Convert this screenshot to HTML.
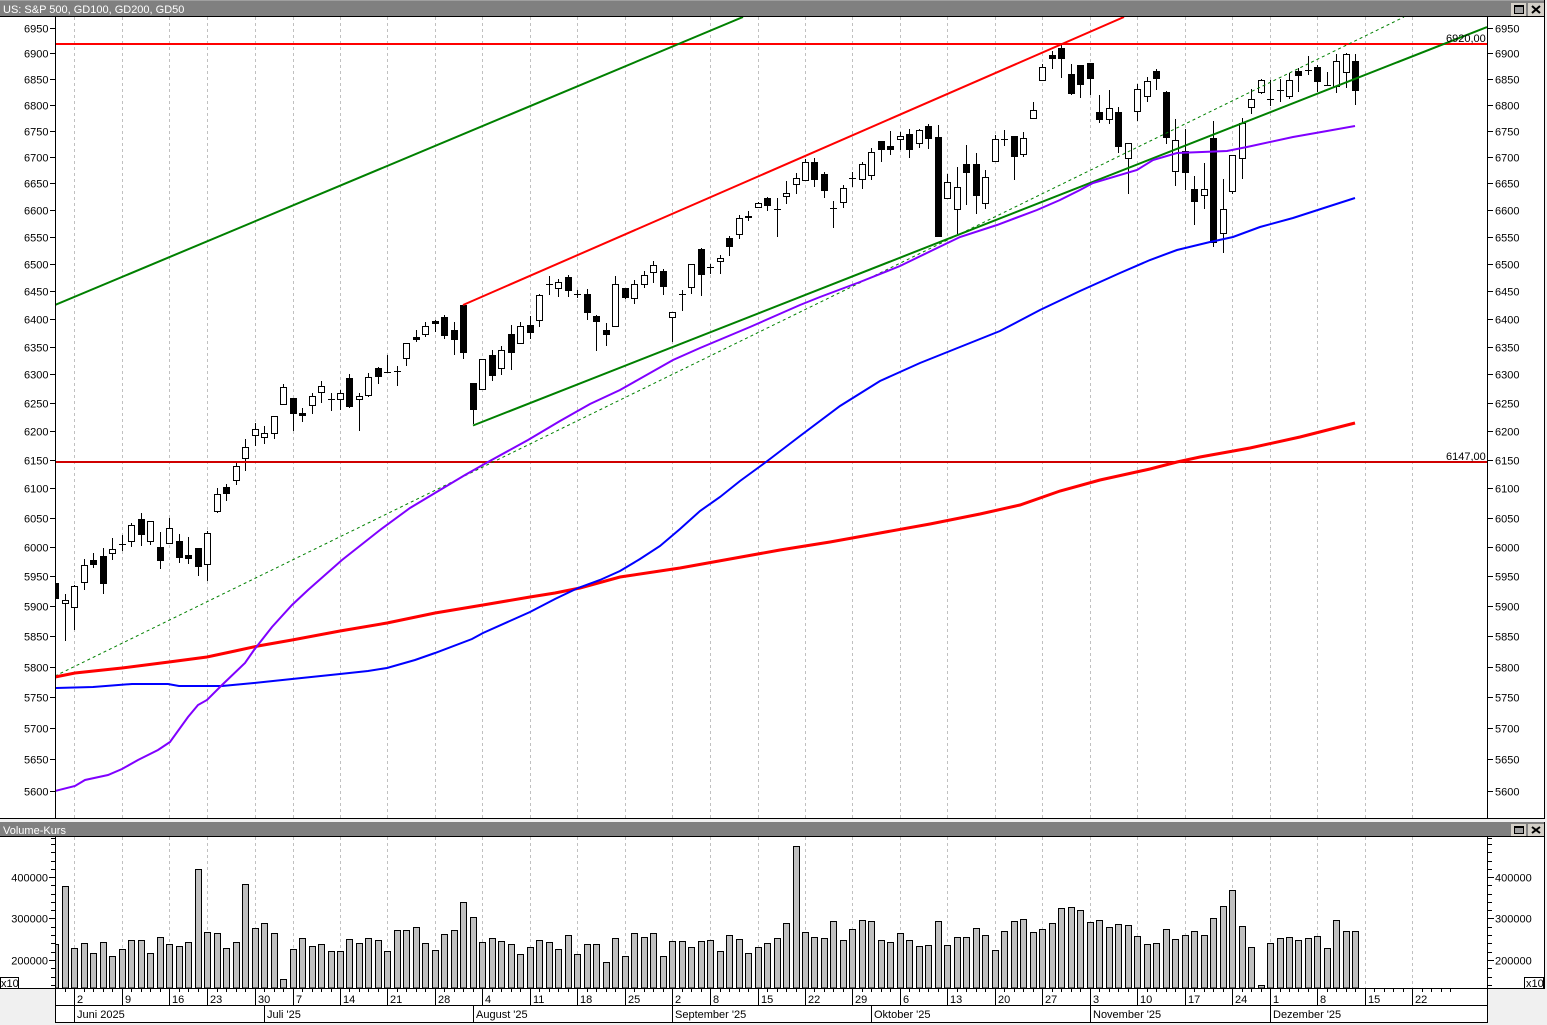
<!DOCTYPE html>
<html><head><meta charset="utf-8"><style>
html,body{margin:0;padding:0;background:#f0f0f0;overflow:hidden;}
svg{display:block;}
text{font-family:"Liberation Sans",Arial,sans-serif;font-size:11px;fill:#000;}
</style></head><body>
<svg width="1547" height="1025" viewBox="0 0 1547 1025" xmlns="http://www.w3.org/2000/svg">
<defs>
<clipPath id="cm"><rect x="56" y="17" width="1431" height="801"/></clipPath>
<clipPath id="cv"><rect x="56" y="837" width="1431" height="151"/></clipPath>
</defs>
<rect width="1547" height="1025" fill="#f0f0f0"/>

<!-- main window -->
<rect x="0" y="0" width="1544" height="16" fill="#808080"/>
<rect x="0" y="0" width="1544" height="1" fill="#a0a0a0"/>
<rect x="0" y="16" width="1545" height="1" fill="#000"/>
<rect x="0" y="17" width="1544" height="801" fill="#fff"/>
<rect x="0" y="818" width="1545" height="1" fill="#000"/>
<rect x="1544" y="0" width="1" height="819" fill="#000"/>
<text x="3" y="13" style="fill:#fff">US: S&amp;P 500, GD100, GD200, GD50</text>
<rect x="1511" y="3" width="15" height="13" fill="#d4d0c8"/>
<rect x="1514.5" y="5.5" width="9" height="8" fill="#a0a0a0" stroke="#000"/>
<rect x="1514" y="5" width="10" height="2" fill="#000"/>
<rect x="1528" y="3" width="16" height="13" fill="#d4d0c8"/>
<path d="M1532 6L1540 13M1540 6L1532 13" stroke="#000" stroke-width="2"/>

<!-- volume window -->
<rect x="0" y="822" width="1544" height="14" fill="#808080"/>
<rect x="0" y="836" width="1545" height="1" fill="#000"/>
<rect x="0" y="837" width="1544" height="151" fill="#fff"/>
<rect x="1544" y="822" width="1" height="167" fill="#000"/>
<text x="3" y="834" style="fill:#fff">Volume-Kurs</text>
<rect x="1511" y="824" width="15" height="12" fill="#d4d0c8"/>
<rect x="1514.5" y="826.5" width="9" height="7" fill="#a0a0a0" stroke="#000"/>
<rect x="1514" y="826" width="10" height="2" fill="#000"/>
<rect x="1528" y="824" width="16" height="12" fill="#d4d0c8"/>
<path d="M1532 827L1540 833M1540 827L1532 833" stroke="#000" stroke-width="2"/>

<!-- date axis area -->
<rect x="55" y="988" width="1433" height="34" fill="#fff"/>
<rect x="0" y="988" width="1545" height="1" fill="#000"/>
<rect x="55" y="1005" width="1433" height="1" fill="#000"/>
<rect x="55" y="1022" width="1433" height="1" fill="#000"/>

<!-- axis lines -->
<rect x="55" y="17" width="1" height="801" fill="#000"/>
<rect x="1487" y="17" width="1" height="801" fill="#000"/>
<rect x="55" y="837" width="1" height="186" fill="#000"/>
<rect x="1487" y="837" width="1" height="186" fill="#000"/>

<!-- gridlines -->
<path fill="none" stroke="#c0c0c0" stroke-width="1" stroke-dasharray="3,3" d="M74.5 17V818M122.5 17V818M169.5 17V818M207.5 17V818M255.5 17V818M293.5 17V818M340.5 17V818M387.5 17V818M435.5 17V818M482.5 17V818M530.5 17V818M577.5 17V818M625.5 17V818M672.5 17V818M710.5 17V818M758.5 17V818M805.5 17V818M852.5 17V818M900.5 17V818M947.5 17V818M995.5 17V818M1042.5 17V818M1090.5 17V818M1137.5 17V818M1185.5 17V818M1232.5 17V818M1270.5 17V818M1317.5 17V818M1365.5 17V818M1412.5 17V818
M74.5 837V988M122.5 837V988M169.5 837V988M207.5 837V988M255.5 837V988M293.5 837V988M340.5 837V988M387.5 837V988M435.5 837V988M482.5 837V988M530.5 837V988M577.5 837V988M625.5 837V988M672.5 837V988M710.5 837V988M758.5 837V988M805.5 837V988M852.5 837V988M900.5 837V988M947.5 837V988M995.5 837V988M1042.5 837V988M1090.5 837V988M1137.5 837V988M1185.5 837V988M1232.5 837V988M1270.5 837V988M1317.5 837V988M1365.5 837V988M1412.5 837V988"/>

<!-- price axis ticks -->
<path stroke="#000" stroke-width="1" fill="none" d="M50 28.5h5M50 53.5h5M50 79.5h5M50 105.5h5M50 131.5h5M50 157.5h5M50 183.5h5M50 210.5h5M50 237.5h5M50 264.5h5M50 291.5h5M50 319.5h5M50 347.5h5M50 374.5h5M50 403.5h5M50 431.5h5M50 460.5h5M50 488.5h5M50 518.5h5M50 547.5h5M50 576.5h5M50 606.5h5M50 636.5h5M50 667.5h5M50 697.5h5M50 728.5h5M50 759.5h5M50 791.5h5
M1488 28.5h5M1488 53.5h5M1488 79.5h5M1488 105.5h5M1488 131.5h5M1488 157.5h5M1488 183.5h5M1488 210.5h5M1488 237.5h5M1488 264.5h5M1488 291.5h5M1488 319.5h5M1488 347.5h5M1488 374.5h5M1488 403.5h5M1488 431.5h5M1488 460.5h5M1488 488.5h5M1488 518.5h5M1488 547.5h5M1488 576.5h5M1488 606.5h5M1488 636.5h5M1488 667.5h5M1488 697.5h5M1488 728.5h5M1488 759.5h5M1488 791.5h5"/>
<g text-anchor="end">
<text x="48.5" y="32.5">6950</text><text x="48.5" y="57.5">6900</text><text x="48.5" y="83.5">6850</text><text x="48.5" y="109.5">6800</text><text x="48.5" y="135.5">6750</text><text x="48.5" y="161.5">6700</text><text x="48.5" y="187.5">6650</text><text x="48.5" y="214.5">6600</text><text x="48.5" y="241.5">6550</text><text x="48.5" y="268.5">6500</text><text x="48.5" y="295.5">6450</text><text x="48.5" y="323.5">6400</text><text x="48.5" y="351.5">6350</text><text x="48.5" y="378.5">6300</text><text x="48.5" y="407.5">6250</text><text x="48.5" y="435.5">6200</text><text x="48.5" y="464.5">6150</text><text x="48.5" y="492.5">6100</text><text x="48.5" y="522.5">6050</text><text x="48.5" y="551.5">6000</text><text x="48.5" y="580.5">5950</text><text x="48.5" y="610.5">5900</text><text x="48.5" y="640.5">5850</text><text x="48.5" y="671.5">5800</text><text x="48.5" y="701.5">5750</text><text x="48.5" y="732.5">5700</text><text x="48.5" y="763.5">5650</text><text x="48.5" y="795.5">5600</text>
</g>
<g>
<text x="1495" y="32.5">6950</text><text x="1495" y="57.5">6900</text><text x="1495" y="83.5">6850</text><text x="1495" y="109.5">6800</text><text x="1495" y="135.5">6750</text><text x="1495" y="161.5">6700</text><text x="1495" y="187.5">6650</text><text x="1495" y="214.5">6600</text><text x="1495" y="241.5">6550</text><text x="1495" y="268.5">6500</text><text x="1495" y="295.5">6450</text><text x="1495" y="323.5">6400</text><text x="1495" y="351.5">6350</text><text x="1495" y="378.5">6300</text><text x="1495" y="407.5">6250</text><text x="1495" y="435.5">6200</text><text x="1495" y="464.5">6150</text><text x="1495" y="492.5">6100</text><text x="1495" y="522.5">6050</text><text x="1495" y="551.5">6000</text><text x="1495" y="580.5">5950</text><text x="1495" y="610.5">5900</text><text x="1495" y="640.5">5850</text><text x="1495" y="671.5">5800</text><text x="1495" y="701.5">5750</text><text x="1495" y="732.5">5700</text><text x="1495" y="763.5">5650</text><text x="1495" y="795.5">5600</text>
</g>

<!-- volume axis ticks -->
<path stroke="#000" stroke-width="1" fill="none" d="M49 877.5h6M49 918.5h6M49 960.5h6M51 838.5h4M51 844.5h4M51 852.5h4M51 861.5h4M51 869.5h4M51 885.5h4M51 894.5h4M51 902.5h4M51 910.5h4M51 927.5h4M51 935.5h4M51 943.5h4M51 952.5h4M51 968.5h4M51 977.5h4M51 985.5h4
M1488 877.5h6M1488 918.5h6M1488 960.5h6M1488 838.5h4M1488 844.5h4M1488 852.5h4M1488 861.5h4M1488 869.5h4M1488 885.5h4M1488 894.5h4M1488 902.5h4M1488 910.5h4M1488 927.5h4M1488 935.5h4M1488 943.5h4M1488 952.5h4M1488 968.5h4M1488 977.5h4M1488 985.5h4"/>
<g text-anchor="end">
<text x="48" y="881.5">400000</text><text x="48" y="922.5">300000</text><text x="48" y="964.5">200000</text>
</g>
<text x="1495" y="881.5">400000</text><text x="1495" y="922.5">300000</text><text x="1495" y="964.5">200000</text>
<rect x="0.5" y="977.5" width="18" height="11" fill="#fff" stroke="#000"/>
<text x="1" y="987">x10</text>
<rect x="1524.5" y="977.5" width="19" height="11" fill="#fff" stroke="#000"/>
<text x="1526" y="987">x10</text>

<!-- candles -->
<g clip-path="url(#cm)" shape-rendering="crispEdges">
<path stroke="#000" stroke-width="1" fill="none" d="M55.5 578V603M65.5 594V641M74.5 585V630M84.5 559V590M93.5 553V568M103.5 548V594M112.5 538V560M122.5 535V551M131.5 523V547M141.5 513V546M150.5 521V545M160.5 532V569M169.5 518V544M179.5 534V563M188.5 537V564M198.5 548V576M207.5 531V581M217.5 488V513M226.5 484V501M236.5 463V485M245.5 439V471M255.5 423V446M264.5 426V444M274.5 416V439M283.5 384V405M293.5 398V431M302.5 408V422M312.5 393V414M321.5 381V403M331.5 393V411M340.5 390V410M349.5 374V408M359.5 393V431M368.5 373V397M378.5 367V384M387.5 355V372M397.5 366V386M406.5 343V366M416.5 330V342M425.5 322V337M435.5 320V332M444.5 315V339M454.5 322V355M463.5 305V359M473.5 383V424M482.5 359V390M492.5 350V381M501.5 346V375M511.5 325V370M520.5 322V344M530.5 316V339M539.5 294V327M549.5 276V295M558.5 279V297M568.5 275V297M577.5 290V298M587.5 289V320M596.5 315V351M606.5 323V346M615.5 276V327M625.5 288V299M634.5 280V304M644.5 271V288M653.5 261V283M663.5 269V295M672.5 312V342M682.5 290V311M691.5 264V294M701.5 248V296M710.5 264V274M720.5 255V274M729.5 236V256M739.5 215V239M748.5 211V221M758.5 202V208M767.5 197V211M777.5 198V237M786.5 181V204M796.5 173V194M805.5 159V181M814.5 158V187M824.5 172V198M833.5 201V228M843.5 185V208M852.5 172V187M862.5 162V189M871.5 148V180M881.5 141V162M890.5 131V155M900.5 132V150M909.5 129V158M919.5 129V148M928.5 124V149M938.5 125V237M947.5 174V199M957.5 167V234M966.5 145V205M976.5 153V214M985.5 170V209M995.5 135V162M1004.5 130V146M1014.5 136V180M1023.5 132V157M1033.5 102V119M1042.5 64V81M1052.5 51V69M1061.5 45V78M1071.5 64V95M1080.5 65V98M1090.5 63V95M1099.5 95V123M1109.5 90V124M1118.5 107V153M1128.5 143V194M1137.5 84V121M1147.5 77V102M1156.5 69V90M1166.5 91V144M1175.5 119V186M1185.5 129V190M1194.5 176V225M1204.5 163V209M1213.5 121V247M1223.5 179V253M1232.5 155V194M1242.5 118V179M1251.5 89V114M1261.5 79V94M1270.5 80V106M1280.5 79V102M1289.5 73V99M1298.5 68V92M1308.5 56V75M1317.5 65V92M1327.5 72V85M1336.5 54V93M1346.5 53V88M1355.5 54V105"/>
<path fill="#000" d="M52 583h7V599h-7zM90 560h7V565h-7zM100 556h7V584h-7zM138 519h7V535h-7zM157 547h7V561h-7zM176 541h7V558h-7zM185 555h7V559h-7zM195 548h7V567h-7zM223 487h7V494h-7zM290 398h7V414h-7zM299 413h7V416h-7zM346 378h7V407h-7zM375 368h7V377h-7zM413 337h7V340h-7zM432 321h7V324h-7zM441 317h7V336h-7zM451 330h7V340h-7zM460 305h7V353h-7zM470 383h7V410h-7zM489 355h7V376h-7zM508 334h7V353h-7zM527 325h7V333h-7zM565 277h7V291h-7zM584 294h7V313h-7zM593 316h7V322h-7zM603 330h7V335h-7zM622 288h7V298h-7zM660 271h7V287h-7zM698 249h7V275h-7zM726 238h7V247h-7zM745 216h7V218h-7zM764 198h7V206h-7zM811 162h7V180h-7zM821 174h7V191h-7zM878 141h7V150h-7zM887 146h7V150h-7zM906 134h7V150h-7zM925 126h7V139h-7zM935 137h7V237h-7zM963 164h7V173h-7zM973 164h7V196h-7zM1011 136h7V157h-7zM1049 55h7V59h-7zM1058 48h7V59h-7zM1068 74h7V94h-7zM1077 65h7V85h-7zM1087 63h7V79h-7zM1096 112h7V120h-7zM1115 112h7V147h-7zM1153 71h7V79h-7zM1163 92h7V138h-7zM1182 151h7V173h-7zM1191 189h7V202h-7zM1210 138h7V243h-7zM1295 71h7V76h-7zM1314 67h7V82h-7zM1352 61h7V91h-7z"/>
<path fill="#fff" stroke="#000" stroke-width="1" d="M62.5 600.5h6V603.5h-6zM71.5 586.5h6V607.5h-6zM81.5 565.5h6V582.5h-6zM109.5 549.5h6V553.5h-6zM128.5 525.5h6V541.5h-6zM147.5 521.5h6V541.5h-6zM166.5 528.5h6V543.5h-6zM204.5 533.5h6V564.5h-6zM214.5 494.5h6V511.5h-6zM233.5 466.5h6V480.5h-6zM242.5 447.5h6V458.5h-6zM252.5 429.5h6V435.5h-6zM261.5 433.5h6V437.5h-6zM271.5 416.5h6V433.5h-6zM280.5 387.5h6V404.5h-6zM309.5 396.5h6V405.5h-6zM318.5 386.5h6V392.5h-6zM337.5 393.5h6V399.5h-6zM356.5 396.5h6V399.5h-6zM365.5 377.5h6V395.5h-6zM403.5 343.5h6V358.5h-6zM422.5 326.5h6V334.5h-6zM479.5 359.5h6V389.5h-6zM498.5 350.5h6V368.5h-6zM517.5 326.5h6V343.5h-6zM536.5 295.5h6V320.5h-6zM555.5 282.5h6V288.5h-6zM612.5 284.5h6V326.5h-6zM631.5 284.5h6V298.5h-6zM641.5 275.5h6V284.5h-6zM650.5 265.5h6V272.5h-6zM669.5 312.5h6V317.5h-6zM688.5 264.5h6V287.5h-6zM717.5 258.5h6V261.5h-6zM736.5 218.5h6V234.5h-6zM755.5 203.5h6V207.5h-6zM783.5 193.5h6V196.5h-6zM793.5 178.5h6V184.5h-6zM802.5 162.5h6V180.5h-6zM840.5 188.5h6V202.5h-6zM859.5 164.5h6V179.5h-6zM868.5 152.5h6V175.5h-6zM897.5 136.5h6V139.5h-6zM916.5 130.5h6V143.5h-6zM944.5 182.5h6V198.5h-6zM954.5 187.5h6V209.5h-6zM982.5 177.5h6V203.5h-6zM992.5 139.5h6V161.5h-6zM1020.5 138.5h6V154.5h-6zM1030.5 110.5h6V118.5h-6zM1039.5 67.5h6V80.5h-6zM1106.5 108.5h6V119.5h-6zM1125.5 143.5h6V158.5h-6zM1134.5 89.5h6V111.5h-6zM1144.5 81.5h6V96.5h-6zM1172.5 140.5h6V171.5h-6zM1201.5 189.5h6V195.5h-6zM1220.5 209.5h6V233.5h-6zM1229.5 155.5h6V191.5h-6zM1239.5 123.5h6V158.5h-6zM1248.5 99.5h6V107.5h-6zM1258.5 80.5h6V92.5h-6zM1286.5 80.5h6V96.5h-6zM1333.5 61.5h6V86.5h-6zM1343.5 54.5h6V72.5h-6z"/>
<path stroke="#000" stroke-width="1" fill="none" d="M119 544.5h7M328 399.5h7M384 372.5h7M394 371.5h7M546 284.5h7M574 294.5h7M679 294.5h7M707 267.5h7M774 209.5h7M830 208.5h7M849 178.5h7M1001 139.5h7M1267 99.5h7M1277 90.5h7M1305 70.5h7M1324 85.5h7"/>
</g>

<!-- lines and MAs -->
<g clip-path="url(#cm)" fill="none">
<rect x="56" y="43" width="1431" height="2" fill="#ff0000"/>
<rect x="56" y="461" width="1431" height="2" fill="#d00000"/>
<line x1="55" y1="676" x2="1404" y2="17" stroke="#008000" stroke-width="1" stroke-dasharray="3,3"/>
<line x1="55" y1="305" x2="743" y2="17" stroke="#008000" stroke-width="2"/>
<line x1="463" y1="305" x2="1124" y2="17" stroke="#ff0000" stroke-width="2"/>
<line x1="473" y1="425.5" x2="1487" y2="27" stroke="#008000" stroke-width="2"/>
<polyline stroke="#ff0000" stroke-width="3" points="55,677 75,673 122,668 169,662 207,657 235,651 258,646 292,640 340,631 387,623 435,613 483,605 530,597 555,593 580,588 620,577 680,568 730,559 780,550 830,542 880,533 930,524 980,514 1020,505 1060,491 1100,480 1150,469 1177,462 1200,457 1250,448 1300,437 1355,423"/>
<polyline stroke="#0000ff" stroke-width="2" points="55,688 93,687 132,684 168,684 179,686 222,686 254,683 292,679 340,674 368,671 387,668 415,660 435,653 472,639 483,633 530,612 555,599 578,588 600,580 620,571 640,559 660,546 680,529 700,511 720,497 740,481 766,462 800,436 840,406 880,381 920,363 960,347 1000,331 1040,310 1080,291 1120,273 1150,260 1177,250 1210,242 1233,237 1260,227 1293,218 1327,207 1355,198"/>
<polyline stroke="#8000ff" stroke-width="2" points="55,791 75,786 85,780 108,775 122,769 138,760 158,750 170,742 188,717 198,705 207,700 222,685 245,663 254,650 272,627 292,605 308,590 325,575 342,560 380,530 410,508 440,490 465,475 488,462 528,440 560,421 590,404 620,390 673,360 700,348 750,327 800,305 820,297 860,282 900,266 933,250 960,237 997,225 1037,210 1060,200 1080,190 1093,183 1137,170 1153,160 1177,153 1227,151 1247,147 1293,137 1327,131 1355,126"/>
</g>
<text x="1446" y="42">6920,00</text>
<text x="1446" y="460">6147,00</text>

<!-- volume bars -->
<g clip-path="url(#cv)" shape-rendering="crispEdges">
<path fill="#c0c0c0" stroke="#000" stroke-width="1" d="M52.5 944.5h6V988h-6zM62.5 886.5h6V988h-6zM71.5 948.5h6V988h-6zM81.5 943.5h6V988h-6zM90.5 953.5h6V988h-6zM100.5 942.5h6V988h-6zM109.5 956.5h6V988h-6zM119.5 949.5h6V988h-6zM128.5 940.5h6V988h-6zM138.5 940.5h6V988h-6zM147.5 953.5h6V988h-6zM157.5 937.5h6V988h-6zM166.5 944.5h6V988h-6zM176.5 946.5h6V988h-6zM185.5 942.5h6V988h-6zM195.5 869.5h6V988h-6zM204.5 932.5h6V988h-6zM214.5 933.5h6V988h-6zM223.5 948.5h6V988h-6zM233.5 942.5h6V988h-6zM242.5 884.5h6V988h-6zM252.5 928.5h6V988h-6zM261.5 923.5h6V988h-6zM271.5 933.5h6V988h-6zM280.5 979.5h6V988h-6zM290.5 949.5h6V988h-6zM299.5 938.5h6V988h-6zM309.5 946.5h6V988h-6zM318.5 944.5h6V988h-6zM328.5 951.5h6V988h-6zM337.5 951.5h6V988h-6zM346.5 939.5h6V988h-6zM356.5 943.5h6V988h-6zM365.5 938.5h6V988h-6zM375.5 940.5h6V988h-6zM384.5 951.5h6V988h-6zM394.5 930.5h6V988h-6zM403.5 930.5h6V988h-6zM413.5 927.5h6V988h-6zM422.5 943.5h6V988h-6zM432.5 950.5h6V988h-6zM441.5 934.5h6V988h-6zM451.5 930.5h6V988h-6zM460.5 902.5h6V988h-6zM470.5 917.5h6V988h-6zM479.5 942.5h6V988h-6zM489.5 938.5h6V988h-6zM498.5 941.5h6V988h-6zM508.5 944.5h6V988h-6zM517.5 954.5h6V988h-6zM527.5 947.5h6V988h-6zM536.5 940.5h6V988h-6zM546.5 942.5h6V988h-6zM555.5 949.5h6V988h-6zM565.5 935.5h6V988h-6zM574.5 954.5h6V988h-6zM584.5 944.5h6V988h-6zM593.5 944.5h6V988h-6zM603.5 962.5h6V988h-6zM612.5 938.5h6V988h-6zM622.5 956.5h6V988h-6zM631.5 933.5h6V988h-6zM641.5 937.5h6V988h-6zM650.5 933.5h6V988h-6zM660.5 956.5h6V988h-6zM669.5 941.5h6V988h-6zM679.5 941.5h6V988h-6zM688.5 947.5h6V988h-6zM698.5 941.5h6V988h-6zM707.5 940.5h6V988h-6zM717.5 951.5h6V988h-6zM726.5 935.5h6V988h-6zM736.5 939.5h6V988h-6zM745.5 953.5h6V988h-6zM755.5 947.5h6V988h-6zM764.5 943.5h6V988h-6zM774.5 938.5h6V988h-6zM783.5 923.5h6V988h-6zM793.5 846.5h6V988h-6zM802.5 932.5h6V988h-6zM811.5 937.5h6V988h-6zM821.5 938.5h6V988h-6zM830.5 921.5h6V988h-6zM840.5 940.5h6V988h-6zM849.5 929.5h6V988h-6zM859.5 920.5h6V988h-6zM868.5 921.5h6V988h-6zM878.5 940.5h6V988h-6zM887.5 942.5h6V988h-6zM897.5 933.5h6V988h-6zM906.5 940.5h6V988h-6zM916.5 946.5h6V988h-6zM925.5 945.5h6V988h-6zM935.5 921.5h6V988h-6zM944.5 945.5h6V988h-6zM954.5 937.5h6V988h-6zM963.5 937.5h6V988h-6zM973.5 928.5h6V988h-6zM982.5 935.5h6V988h-6zM992.5 950.5h6V988h-6zM1001.5 931.5h6V988h-6zM1011.5 921.5h6V988h-6zM1020.5 919.5h6V988h-6zM1030.5 932.5h6V988h-6zM1039.5 929.5h6V988h-6zM1049.5 923.5h6V988h-6zM1058.5 908.5h6V988h-6zM1068.5 907.5h6V988h-6zM1077.5 910.5h6V988h-6zM1087.5 922.5h6V988h-6zM1096.5 920.5h6V988h-6zM1106.5 927.5h6V988h-6zM1115.5 924.5h6V988h-6zM1125.5 925.5h6V988h-6zM1134.5 936.5h6V988h-6zM1144.5 944.5h6V988h-6zM1153.5 943.5h6V988h-6zM1163.5 929.5h6V988h-6zM1172.5 939.5h6V988h-6zM1182.5 935.5h6V988h-6zM1191.5 931.5h6V988h-6zM1201.5 935.5h6V988h-6zM1210.5 918.5h6V988h-6zM1220.5 906.5h6V988h-6zM1229.5 890.5h6V988h-6zM1239.5 926.5h6V988h-6zM1248.5 947.5h6V988h-6zM1258.5 985.5h6V988h-6zM1267.5 943.5h6V988h-6zM1277.5 938.5h6V988h-6zM1286.5 937.5h6V988h-6zM1295.5 940.5h6V988h-6zM1305.5 938.5h6V988h-6zM1314.5 936.5h6V988h-6zM1324.5 948.5h6V988h-6zM1333.5 920.5h6V988h-6zM1343.5 931.5h6V988h-6zM1352.5 931.5h6V988h-6z"/>
</g>

<!-- date axis ticks -->
<path stroke="#000" stroke-width="1" fill="none" shape-rendering="crispEdges" d="M65.5 988v4M84.5 988v4M93.5 988v4M103.5 988v4M112.5 988v4M131.5 988v4M141.5 988v4M150.5 988v4M160.5 988v4M179.5 988v4M188.5 988v4M198.5 988v4M217.5 988v4M226.5 988v4M236.5 988v4M245.5 988v4M264.5 988v4M274.5 988v4M283.5 988v4M302.5 988v4M312.5 988v4M321.5 988v4M331.5 988v4M349.5 988v4M359.5 988v4M368.5 988v4M378.5 988v4M397.5 988v4M406.5 988v4M416.5 988v4M425.5 988v4M444.5 988v4M454.5 988v4M463.5 988v4M473.5 988v4M492.5 988v4M501.5 988v4M511.5 988v4M520.5 988v4M539.5 988v4M549.5 988v4M558.5 988v4M568.5 988v4M587.5 988v4M596.5 988v4M606.5 988v4M615.5 988v4M634.5 988v4M644.5 988v4M653.5 988v4M663.5 988v4M682.5 988v4M691.5 988v4M701.5 988v4M720.5 988v4M729.5 988v4M739.5 988v4M748.5 988v4M767.5 988v4M777.5 988v4M786.5 988v4M796.5 988v4M814.5 988v4M824.5 988v4M833.5 988v4M843.5 988v4M862.5 988v4M871.5 988v4M881.5 988v4M890.5 988v4M909.5 988v4M919.5 988v4M928.5 988v4M938.5 988v4M957.5 988v4M966.5 988v4M976.5 988v4M985.5 988v4M1004.5 988v4M1014.5 988v4M1023.5 988v4M1033.5 988v4M1052.5 988v4M1061.5 988v4M1071.5 988v4M1080.5 988v4M1099.5 988v4M1109.5 988v4M1118.5 988v4M1128.5 988v4M1147.5 988v4M1156.5 988v4M1166.5 988v4M1175.5 988v4M1194.5 988v4M1204.5 988v4M1213.5 988v4M1223.5 988v4M1242.5 988v4M1251.5 988v4M1261.5 988v4M1280.5 988v4M1289.5 988v4M1298.5 988v4M1308.5 988v4M1327.5 988v4M1336.5 988v4M1346.5 988v4M1355.5 988v4M1374.5 988v4M1384.5 988v4M1393.5 988v4M1403.5 988v4M1422.5 988v4M1431.5 988v4M1441.5 988v4M1450.5 988v4
M74.5 988V1005M122.5 988V1005M169.5 988V1005M207.5 988V1005M255.5 988V1005M293.5 988V1005M340.5 988V1005M387.5 988V1005M435.5 988V1005M482.5 988V1005M530.5 988V1005M577.5 988V1005M625.5 988V1005M672.5 988V1005M710.5 988V1005M758.5 988V1005M805.5 988V1005M852.5 988V1005M900.5 988V1005M947.5 988V1005M995.5 988V1005M1042.5 988V1005M1090.5 988V1005M1137.5 988V1005M1185.5 988V1005M1232.5 988V1005M1270.5 988V1005M1317.5 988V1005M1365.5 988V1005M1412.5 988V1005
M74.5 1005V1022M264.5 1005V1022M473.5 1005V1022M672.5 1005V1022M871.5 1005V1022M1090.5 1005V1022M1270.5 1005V1022"/>
<g>
<text x="77" y="1003">2</text><text x="125" y="1003">9</text><text x="172" y="1003">16</text><text x="210" y="1003">23</text><text x="258" y="1003">30</text><text x="296" y="1003">7</text><text x="343" y="1003">14</text><text x="390" y="1003">21</text><text x="438" y="1003">28</text><text x="485" y="1003">4</text><text x="533" y="1003">11</text><text x="580" y="1003">18</text><text x="628" y="1003">25</text><text x="675" y="1003">2</text><text x="713" y="1003">8</text><text x="761" y="1003">15</text><text x="808" y="1003">22</text><text x="855" y="1003">29</text><text x="903" y="1003">6</text><text x="950" y="1003">13</text><text x="998" y="1003">20</text><text x="1045" y="1003">27</text><text x="1093" y="1003">3</text><text x="1140" y="1003">10</text><text x="1188" y="1003">17</text><text x="1235" y="1003">24</text><text x="1273" y="1003">1</text><text x="1320" y="1003">8</text><text x="1368" y="1003">15</text><text x="1415" y="1003">22</text>
</g>
<g>
<text x="77" y="1018">Juni 2025</text><text x="267" y="1018">Juli '25</text><text x="476" y="1018">August '25</text><text x="675" y="1018">September '25</text><text x="874" y="1018">Oktober '25</text><text x="1093" y="1018">November '25</text><text x="1273" y="1018">Dezember '25</text>
</g>
</svg>
</body></html>
